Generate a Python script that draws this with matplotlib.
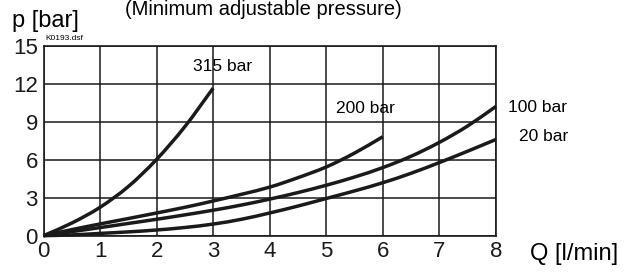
import numpy as np
import matplotlib.pyplot as plt
from matplotlib.path import Path
from matplotlib.patches import PathPatch

plt.rcParams['font.family'] = ['Liberation Sans', 'DejaVu Sans']

# readings (Q in l/min, p in bar)
q_315 = [0, 0.5, 1, 1.5, 2, 2.5, 3]
p_315 = [0, 1.0, 2.25, 3.9, 6.05, 8.65, 11.7]

q_200 = [0, 0.5, 1, 1.5, 2, 2.5, 3, 3.5, 4, 4.5, 5, 5.5, 6]
p_200 = [0, 0.48, 0.93, 1.36, 1.8, 2.25, 2.75, 3.28, 3.85, 4.6, 5.45, 6.55, 7.85]

q_100 = [0, 0.5, 1, 1.5, 2, 2.5, 3, 3.5, 4, 4.5, 5, 5.5, 6, 6.5, 7, 7.5, 8]
p_100 = [0, 0.32, 0.64, 0.97, 1.3, 1.65, 2.02, 2.43, 2.9, 3.42, 4.0, 4.65,
         5.4, 6.3, 7.4, 8.7, 10.25]

q_20 = [0, 0.5, 1, 1.5, 2, 2.5, 3, 3.5, 4, 4.5, 5, 5.5, 6, 6.5, 7, 7.5, 8]
p_20 = [0, 0.06, 0.18, 0.3, 0.45, 0.65, 0.92, 1.3, 1.8, 2.35, 2.95, 3.55,
        4.2, 4.95, 5.8, 6.7, 7.63]

x_ticks = [0, 1, 2, 3, 4, 5, 6, 7, 8]
y_ticks = [0, 3, 6, 9, 12, 15]


def smooth_path(q, p):
    # catmull-rom through the read points, drawn as cubic bezier segments
    pts = np.column_stack([q, p]).astype(float)
    ext = np.vstack([2 * pts[0] - pts[1], pts, 2 * pts[-1] - pts[-2]])
    verts = [pts[0]]
    codes = [Path.MOVETO]
    for i in range(1, len(ext) - 2):
        p0, p1, p2, p3 = ext[i - 1], ext[i], ext[i + 1], ext[i + 2]
        verts += [p1 + (p2 - p0) / 6, p2 - (p3 - p1) / 6, p2]
        codes += [Path.CURVE4] * 3
    return Path(verts, codes)


fig = plt.figure(figsize=(6.25, 2.75), dpi=100)
ax = fig.add_axes([0.0696, 0.143, 0.724, 0.688])

for q, p in [(q_315, p_315), (q_200, p_200), (q_100, p_100), (q_20, p_20)]:
    ax.add_patch(PathPatch(smooth_path(q, p), fill=False, ec='#1a1a1a',
                           lw=2.5, capstyle='butt', zorder=3, clip_on=False))

ax.set_xlim(0, 8)
ax.set_ylim(0, 15)
ax.set_xticks(x_ticks)
ax.set_yticks(y_ticks)
ax.tick_params(length=0, labelsize=16, pad=4, colors='#1a1a1a')
ax.grid(True, color='#1a1a1a', lw=1.1)
for s in ax.spines.values():
    s.set_color('#1a1a1a')
    s.set_linewidth(1.2)

ax.text(3.16, 13.4, '315 bar', fontsize=12.5, ha='center', va='center')
ax.text(5.69, 10.1, '200 bar', fontsize=12.5, ha='center', va='center')
ax.text(8.22, 10.2, '100 bar', fontsize=12.5, ha='left', va='center')
ax.text(8.4, 7.9, '20 bar', fontsize=12.5, ha='left', va='center')

fig.text(0.02, 0.925, 'p [bar]', fontsize=17, ha='left', va='center')
fig.text(0.848, 0.075, 'Q [l/min]', fontsize=17, ha='left', va='center')
fig.text(0.422, 1.0, '(Minimum adjustable pressure)', fontsize=14.5,
         ha='center', va='top')
fig.text(0.072, 0.86, 'K0193.dsf', fontsize=6, ha='left', va='center')

fig.savefig('out.png', dpi=100)
